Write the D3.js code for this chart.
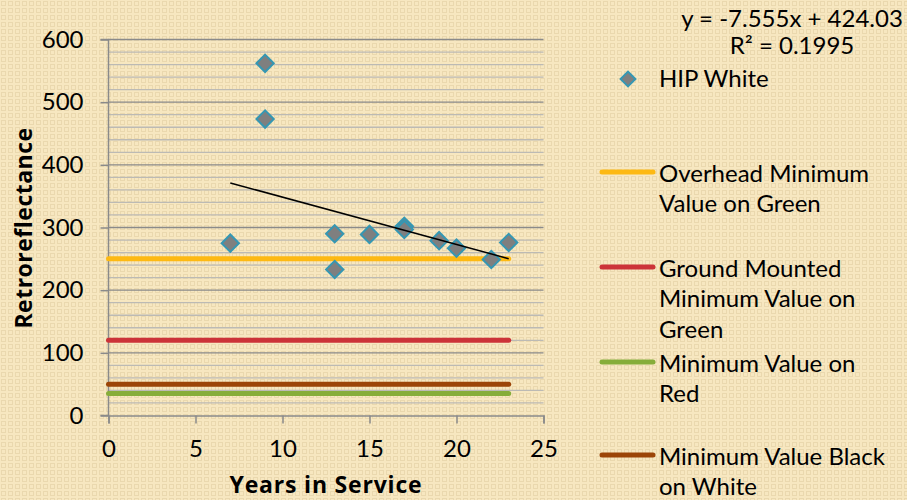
<!DOCTYPE html>
<html>
<head>
<meta charset="utf-8">
<script src="https://cdn.jsdelivr.net/npm/d3@7"></script>
<style>
  body { margin: 0; background: #f6e6be; }
  svg { display: block; font-family: Lato, "Open Sans", sans-serif; }
</style>
</head>
<body>
<svg id="chart" width="907" height="500"></svg>
<script>
// DATA
const years = [7, 9, 9, 13, 13, 15, 17, 17, 19, 20, 22, 23];
const retro = [275, 562, 473, 290, 233, 289, 302, 297, 279, 267, 249, 276];

const minNames = [
  ["Overhead Minimum", "Value on Green"],
  ["Ground Mounted", "Minimum Value on", "Green"],
  ["Minimum Value on", "Red"],
  ["Minimum Value Black", "on White"],
];
const minValues = [250, 120, 35, 50];
const minColors = ["#fdb913", "#cc3338", "#86ad3a", "#9c4508"];
const minRange = [0, 23];

const trendSlope = -7.555, trendIntercept = 424.03;
const trendRange = [7, 23];
const trendText = ["y = -7.555x + 424.03", "R² = 0.1995"];

const xTicks = [0, 5, 10, 15, 20, 25];
const yTicks = [0, 100, 200, 300, 400, 500, 600];

// CANVAS SETUP
const svg = d3.select("#chart");
const margin = { top: 39.5, left: 108.5 };
const width = 435, height = 376;
const fs = 24;

// background texture
const defs = svg.append("defs");
const pat = defs.append("pattern")
  .attr("id", "tex").attr("width", 7).attr("height", 7)
  .attr("patternUnits", "userSpaceOnUse");
pat.append("rect").attr("width", 7).attr("height", 7).attr("fill", "#f7e7c0");
pat.append("rect").attr("x", 1.5).attr("y", 1.5).attr("width", 4).attr("height", 4)
  .attr("fill", "none").attr("stroke", "#ead8ae").attr("stroke-width", 1);
svg.append("rect").attr("width", 907).attr("height", 500).attr("fill", "url(#tex)");

const x = d3.scaleLinear().domain([0, 25]).range([0, width]);
const y = d3.scaleLinear().domain([0, 600]).range([height, 0]);

const g = svg.append("g").attr("transform", `translate(${margin.left},${margin.top})`);

// gridlines
const minor = d3.range(20, 600, 20).filter((v) => v % 100 !== 0);
g.selectAll(".minor").data(minor).join("line")
  .attr("x1", 0).attr("x2", width)
  .attr("y1", (d) => y(d)).attr("y2", (d) => y(d))
  .attr("stroke", "#bcbab4").attr("stroke-width", 1.3);
g.selectAll(".major").data(yTicks.slice(1)).join("line")
  .attr("x1", 0).attr("x2", width)
  .attr("y1", (d) => y(d)).attr("y2", (d) => y(d))
  .attr("stroke", "#8a8a8a").attr("stroke-width", 1.3);

// axes
const gx = g.append("g").attr("transform", `translate(0,${height})`)
  .call(d3.axisBottom(x).tickValues(xTicks).tickSize(8).tickPadding(16));
const gy = g.append("g")
  .call(d3.axisLeft(y).tickValues(yTicks).tickSize(8).tickPadding(17));
[gx, gy].forEach((a) => {
  a.select(".domain").attr("stroke", "#8a8a8a").attr("stroke-width", 1.5);
  a.selectAll(".tick line").attr("stroke", "#8a8a8a").attr("stroke-width", 1.5);
  a.selectAll("text").attr("font-size", fs).attr("fill", "#000")
    .attr("font-family", "Lato, sans-serif");
});
gy.select(".domain").attr("d", `M-8,0H0V${height}H-8`);

// minimum value lines
g.selectAll(".minline").data(minValues).join("line")
  .attr("x1", x(minRange[0])).attr("x2", x(minRange[1]))
  .attr("y1", (d) => y(d)).attr("y2", (d) => y(d))
  .attr("stroke", (d, i) => minColors[i]).attr("stroke-width", 5)
  .attr("stroke-linecap", "round");

// markers
const diamond = d3.symbol().type(d3.symbolSquare).size(150);
g.selectAll(".pt").data(years).join("path")
  .attr("d", diamond)
  .attr("transform", (d, i) => `translate(${x(d)},${y(retro[i])}) rotate(45)`)
  .attr("fill", "#7f7f7f").attr("stroke", "#3597b3").attr("stroke-width", 2);

// trendline
g.append("line")
  .attr("x1", x(trendRange[0])).attr("y1", y(trendSlope * trendRange[0] + trendIntercept))
  .attr("x2", x(trendRange[1])).attr("y2", y(trendSlope * trendRange[1] + trendIntercept))
  .attr("stroke", "#000").attr("stroke-width", 1.5);

// axis titles
svg.append("text").attr("x", 326).attr("y", 493)
  .attr("text-anchor", "middle").attr("font-size", 23).attr("font-weight", "bold")
  .attr("font-family", "'Open Sans', sans-serif").attr("letter-spacing", 0.8)
  .text("Years in Service");
svg.append("text").attr("transform", "translate(32,228) rotate(-90)")
  .attr("text-anchor", "middle").attr("font-size", 23).attr("font-weight", "bold")
  .attr("font-family", "'Open Sans', sans-serif").attr("letter-spacing", 0.5)
  .text("Retroreflectance");

// legend
const lg = svg.append("g").attr("font-size", fs);
lg.selectAll(".eq").data(trendText).join("text")
  .attr("x", 792).attr("y", (d, i) => 27 + i * 27)
  .attr("text-anchor", "middle").text((d) => d);

lg.append("path").attr("d", d3.symbol().type(d3.symbolSquare).size(110))
  .attr("transform", "translate(628,79) rotate(45)")
  .attr("fill", "#7f7f7f").attr("stroke", "#3597b3").attr("stroke-width", 2);
lg.append("text").attr("x", 659).attr("y", 87).text("HIP White");

const legY = [172, 267, 362, 455];
minNames.forEach((lines, i) => {
  lg.append("line").attr("x1", 602).attr("x2", 653)
    .attr("y1", legY[i]).attr("y2", legY[i])
    .attr("stroke", minColors[i]).attr("stroke-width", 5).attr("stroke-linecap", "round");
  lg.selectAll(null).data(lines).join("text")
    .attr("x", 659).attr("y", (d, j) => legY[i] + 9.5 + j * 30.5)
    .text((d) => d);
});
</script>
</body>
</html>
